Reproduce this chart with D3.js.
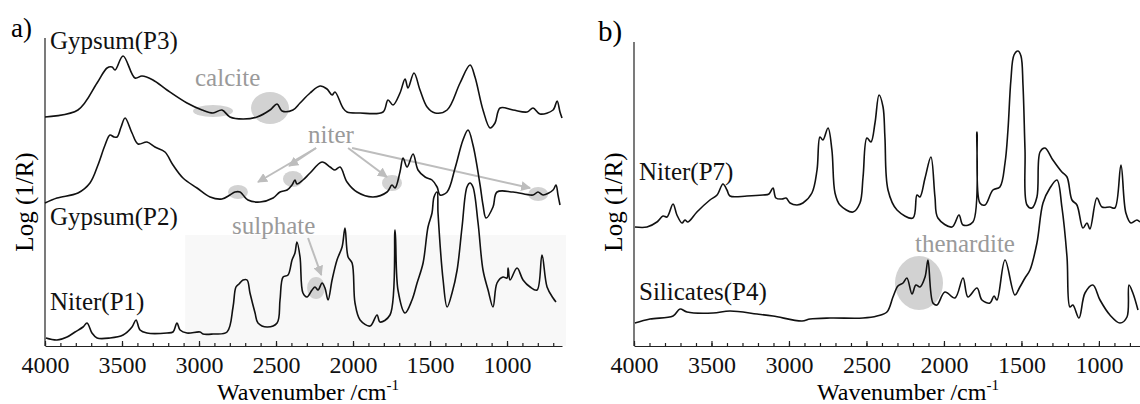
<!DOCTYPE html>
<html lang="en">
<head>
<meta charset="UTF-8">
<title>NIR spectra</title>
<style>
  body { margin: 0; background: #fff; }
  .axis path, .axis line { stroke: #222; stroke-width: 1.2; }
  .spectrum { fill: none; stroke: #111; stroke-width: 1.6; stroke-linejoin: round; }
  .note { fill: #9a9a9a; }
  .blob { fill: #d2d2d2; }
  .arrow { stroke: #bdbdbd; stroke-width: 2; fill: none; }
</style>
<script src="https://d3js.org/d3.v7.min.js"></script>
</head>
<body>
<svg id="chart" width="1140" height="404"></svg>
<script>
// spectra: [wavenumber (cm-1), log(1/R) offset units]
const gypsumP3 = [[4000,2.29],[3786,2.36],[3662,2.63],[3597,2.78],[3565,2.79],[3545,2.76],[3493,2.90],[3416,2.68],[3370,2.70],[3299,2.66],[3208,2.56],[3078,2.43],[2980,2.36],[2909,2.33],[2851,2.36],[2799,2.29],[2714,2.27],[2623,2.29],[2539,2.36],[2493,2.42],[2461,2.35],[2390,2.36],[2344,2.43],[2279,2.53],[2214,2.60],[2169,2.57],[2136,2.51],[2117,2.54],[2065,2.38],[2039,2.34],[1954,2.33],[1805,2.34],[1773,2.46],[1740,2.41],[1695,2.53],[1662,2.67],[1643,2.58],[1604,2.73],[1565,2.56],[1519,2.39],[1467,2.33],[1389,2.36],[1305,2.63],[1240,2.81],[1208,2.69],[1156,2.36],[1110,2.18],[1078,2.23],[1045,2.38],[961,2.36],[870,2.34],[831,2.38],[786,2.32],[701,2.36],[675,2.45],[656,2.34],[643,2.28]];

const gypsumP2 = [[4000,1.43],[3922,1.48],[3786,1.53],[3708,1.63],[3656,1.81],[3610,2.01],[3578,2.11],[3552,2.09],[3532,2.09],[3506,2.19],[3480,2.28],[3435,2.13],[3396,2.02],[3338,2.04],[3286,1.99],[3221,1.94],[3169,1.81],[3104,1.68],[3013,1.58],[2928,1.49],[2851,1.47],[2799,1.51],[2766,1.54],[2734,1.54],[2714,1.51],[2682,1.46],[2604,1.44],[2519,1.48],[2474,1.54],[2428,1.56],[2396,1.61],[2377,1.66],[2364,1.62],[2325,1.66],[2279,1.73],[2201,1.84],[2149,1.79],[2117,1.76],[2084,1.79],[2039,1.64],[1974,1.54],[1870,1.49],[1779,1.54],[1747,1.61],[1727,1.58],[1695,1.74],[1675,1.88],[1649,1.79],[1610,1.92],[1578,1.76],[1532,1.69],[1487,1.66],[1454,1.59],[1435,1.51],[1389,1.54],[1337,1.78],[1286,2.06],[1253,2.16],[1221,2.01],[1175,1.61],[1156,1.41],[1136,1.28],[1091,1.39],[1065,1.54],[961,1.54],[831,1.51],[799,1.54],[766,1.51],[701,1.56],[682,1.61],[669,1.51],[656,1.41]];

const niterP1 = [[3994,0.08],[3922,0.06],[3857,0.09],[3805,0.14],[3753,0.19],[3727,0.23],[3695,0.13],[3662,0.08],[3578,0.08],[3493,0.11],[3435,0.19],[3409,0.26],[3383,0.16],[3338,0.13],[3208,0.13],[3169,0.14],[3143,0.23],[3123,0.16],[3078,0.13],[2993,0.14],[2974,0.12],[2909,0.12],[2818,0.14],[2779,0.39],[2760,0.59],[2740,0.62],[2714,0.66],[2688,0.66],[2669,0.53],[2636,0.33],[2617,0.23],[2558,0.19],[2493,0.23],[2474,0.46],[2454,0.69],[2422,0.71],[2396,0.86],[2377,0.93],[2364,1.04],[2344,0.89],[2325,0.53],[2299,0.49],[2266,0.56],[2247,0.59],[2227,0.56],[2201,0.63],[2182,0.58],[2162,0.46],[2136,0.66],[2104,0.86],[2071,0.99],[2052,1.18],[2032,0.89],[2006,0.83],[1987,0.43],[1954,0.26],[1889,0.20],[1844,0.31],[1825,0.24],[1760,0.31],[1727,1.16],[1708,0.56],[1662,0.33],[1617,0.46],[1584,0.63],[1545,0.83],[1513,1.19],[1487,1.33],[1474,1.49],[1454,1.54],[1448,1.33],[1415,0.66],[1389,0.39],[1357,0.53],[1324,0.76],[1292,1.19],[1260,1.59],[1240,1.63],[1221,1.59],[1188,1.23],[1156,0.76],[1123,0.56],[1091,0.39],[1065,0.63],[1026,0.69],[1000,0.68],[993,0.78],[980,0.66],[935,0.78],[896,0.66],[850,0.59],[805,0.56],[773,0.91],[740,0.59],[701,0.48],[682,0.44]];

const niterP7 = [[3994,1.19],[3916,1.19],[3852,1.24],[3813,1.30],[3787,1.29],[3748,1.42],[3723,1.31],[3690,1.23],[3671,1.26],[3652,1.24],[3594,1.34],[3510,1.46],[3464,1.51],[3426,1.62],[3400,1.56],[3381,1.50],[3271,1.50],[3168,1.51],[3129,1.52],[3103,1.58],[3084,1.48],[3045,1.47],[3019,1.48],[2993,1.43],[2948,1.41],[2910,1.43],[2852,1.53],[2819,1.76],[2800,2.09],[2781,2.06],[2748,2.18],[2723,1.96],[2703,1.53],[2671,1.41],[2587,1.34],[2542,1.43],[2522,1.69],[2497,2.08],[2471,2.04],[2445,2.23],[2419,2.51],[2393,2.39],[2381,2.09],[2361,1.56],[2303,1.36],[2200,1.28],[2174,1.51],[2155,1.49],[2122,1.68],[2084,1.89],[2058,1.49],[2039,1.28],[1948,1.19],[1903,1.31],[1877,1.21],[1813,1.24],[1787,2.14],[1768,1.43],[1735,1.41],[1684,1.56],[1639,1.59],[1606,1.83],[1587,2.16],[1568,2.66],[1548,2.91],[1522,2.95],[1503,2.90],[1490,2.61],[1477,1.96],[1464,1.41],[1432,1.38],[1400,1.49],[1380,1.94],[1348,1.98],[1297,1.86],[1239,1.74],[1206,1.69],[1174,1.46],[1142,1.41],[1103,1.18],[1077,1.23],[1058,1.17],[1013,1.48],[980,1.39],[929,1.39],[897,1.38],[858,1.81],[826,1.33],[793,1.23],[755,1.26],[735,1.24]];

const silicatesP4 = [[3994,0.23],[3897,0.27],[3748,0.30],[3703,0.37],[3658,0.34],[3490,0.33],[3381,0.35],[3206,0.32],[3103,0.30],[2916,0.25],[2864,0.27],[2735,0.28],[2522,0.28],[2432,0.30],[2368,0.34],[2329,0.49],[2297,0.60],[2264,0.63],[2239,0.68],[2206,0.52],[2181,0.61],[2155,0.59],[2122,0.69],[2103,0.86],[2071,0.43],[2045,0.41],[1994,0.54],[1929,0.48],[1877,0.68],[1845,0.49],[1787,0.58],[1755,0.46],[1703,0.43],[1677,0.50],[1658,0.46],[1606,0.86],[1542,0.51],[1510,0.59],[1477,0.68],[1445,0.76],[1400,1.03],[1361,1.43],[1316,1.58],[1271,1.66],[1239,1.39],[1206,0.89],[1187,0.39],[1168,0.41],[1129,0.28],[1090,0.53],[1039,0.61],[993,0.46],[929,0.31],[864,0.23],[819,0.29],[806,0.61],[781,0.53],[748,0.36]];

const majorTicks = [4000, 3500, 3000, 2500, 2000, 1500, 1000];
const curveLabelsA = [["Gypsum(P3)", 2.97], ["Gypsum(P2)", 1.21], ["Niter(P1)", 0.36]];
const curveLabelsB = [["Niter(P7)", 1.66], ["Silicates(P4)", 0.46]];

// annotation blobs: [wavenumber, value, rx, ry]
const calciteBlobs = [[2909, 2.35, 20, 6], [2539, 2.38, 19, 16]];
const niterBlobs = [[2747, 1.54, 10, 7], [2390, 1.67, 10, 8], [1747, 1.63, 10, 8], [798, 1.52, 10, 7]];
const sulphateBlobs = [[2240, 0.58, 9, 11]];
const thenarditeBlobs = [[2161, 0.63, 24, 27]];
// arrows: [from wn, from v, to wn, to v]
const niterArrows = [[2240, 1.98, 2617, 1.64], [2240, 1.98, 2415, 1.80], [2032, 1.98, 1780, 1.69], [2006, 1.98, 850, 1.58]];
const sulphateArrows = [[2292, 1.08, 2206, 0.71]];

const SERIF = '"Liberation Serif", "DejaVu Serif", "Times New Roman", serif';

const svg = d3.select("#chart").attr("font-family", SERIF);

const y = d3.scaleLinear().domain([0, 3.08]).range([346, 38]);
const xA = d3.scaleLinear().domain([4000, 643]).range([45, 562]);
const xB = d3.scaleLinear().domain([4000, 735]).range([634, 1140]);

const defs = svg.append("defs");
defs.append("marker")
  .attr("id", "head")
  .attr("viewBox", "0 0 10 10")
  .attr("refX", 9).attr("refY", 5)
  .attr("markerWidth", 5).attr("markerHeight", 5)
  .attr("orient", "auto")
  .append("path")
  .attr("d", "M0,0 L10,5 L0,10 z")
  .attr("fill", "#bdbdbd");

// faint shading behind Niter(P1), as in the scan
svg.append("rect")
  .attr("x", xA(3090)).attr("y", y(1.11))
  .attr("width", xA(643) - xA(3090) + 4).attr("height", y(0) - y(1.11))
  .attr("fill", "#f8f8f8");

function panel(x, series, labels, yTop, titleWn) {
  const g = svg.append("g");
  const minor = d3.range(4000, x.domain()[1], -100);

  g.append("g").attr("class", "axis")
    .attr("transform", `translate(0,${y(0)})`)
    .call(d3.axisBottom(x).tickValues(minor).tickSize(-3).tickSizeOuter(0).tickFormat(""));
  g.append("g").attr("class", "axis")
    .attr("transform", `translate(0,${y(0)})`)
    .call(d3.axisBottom(x).tickValues(majorTicks).tickSize(-5).tickSizeOuter(0).tickPadding(10).tickFormat(d3.format("d")))
    .call(a => a.select(".domain").remove())
    .call(a => a.attr("font-family", SERIF).attr("font-size", 24))
    .call(a => a.selectAll("text").attr("fill", "#111"));

  g.append("line")
    .attr("x1", x(4000)).attr("x2", x(4000))
    .attr("y1", y(0)).attr("y2", yTop)
    .attr("stroke", "#222").attr("stroke-width", 1.2);

  const t = g.append("text")
    .attr("x", x(titleWn)).attr("y", 400)
    .attr("text-anchor", "middle").attr("font-size", 24);
  t.append("tspan").text("Wavenumber /cm");
  t.append("tspan").attr("font-size", 15).attr("dy", -10).text("-1");

  const line = d3.line()
    .x(d => x(d[0]))
    .y(d => y(d[1]))
    .curve(d3.curveCatmullRom.alpha(0.5));

  return { g, line, series, labels, x };
}

function blobs(p, list) {
  p.g.selectAll(null).data(list).enter().append("ellipse")
    .attr("class", "blob")
    .attr("cx", d => p.x(d[0])).attr("cy", d => y(d[1]))
    .attr("rx", d => d[2]).attr("ry", d => d[3]);
}

function arrows(p, list) {
  p.g.selectAll(null).data(list).enter().append("line")
    .attr("class", "arrow")
    .attr("x1", d => p.x(d[0])).attr("y1", d => y(d[1]))
    .attr("x2", d => p.x(d[2])).attr("y2", d => y(d[3]))
    .attr("marker-end", "url(#head)");
}

function note(p, text, wn, v) {
  p.g.append("text").attr("class", "note")
    .attr("font-size", 25)
    .attr("x", p.x(wn)).attr("y", y(v)).text(text);
}

function finish(p) {
  p.g.selectAll(null).data(p.series).enter().append("path")
    .attr("class", "spectrum")
    .attr("d", d => p.line(d));
  p.g.selectAll(null).data(p.labels).enter().append("text")
    .attr("x", p.x(4000) + 5).attr("y", d => y(d[1]))
    .attr("font-size", 25).attr("fill", "#111")
    .text(d => d[0]);
}

// panel a
const pa = panel(xA, [gypsumP3, gypsumP2, niterP1], curveLabelsA, 38, 2292);
blobs(pa, calciteBlobs);
blobs(pa, niterBlobs);
blobs(pa, sulphateBlobs);
note(pa, "calcite", 3026, 2.60);
note(pa, "niter", 2292, 2.03);
note(pa, "sulphate", 2786, 1.12);
arrows(pa, niterArrows);
arrows(pa, sulphateArrows);
finish(pa);

// panel b
const pb = panel(xB, [niterP7, silicatesP4], curveLabelsB, 42, 2232);
blobs(pb, thenarditeBlobs);
note(pb, "thenardite", 2187, 0.94);
finish(pb);

// panel letters and y titles
svg.append("text").attr("x", 11).attr("y", 37).attr("font-size", 27).text("a)");
svg.append("text").attr("x", 598).attr("y", 41).attr("font-size", 29).text("b)");

[33, 622].forEach(ax => {
  svg.append("text")
    .attr("transform", `translate(${ax},${y(1.44)}) rotate(-90)`)
    .attr("text-anchor", "middle").attr("font-size", 25)
    .text("Log (1/R)");
});
</script>
</body>
</html>
